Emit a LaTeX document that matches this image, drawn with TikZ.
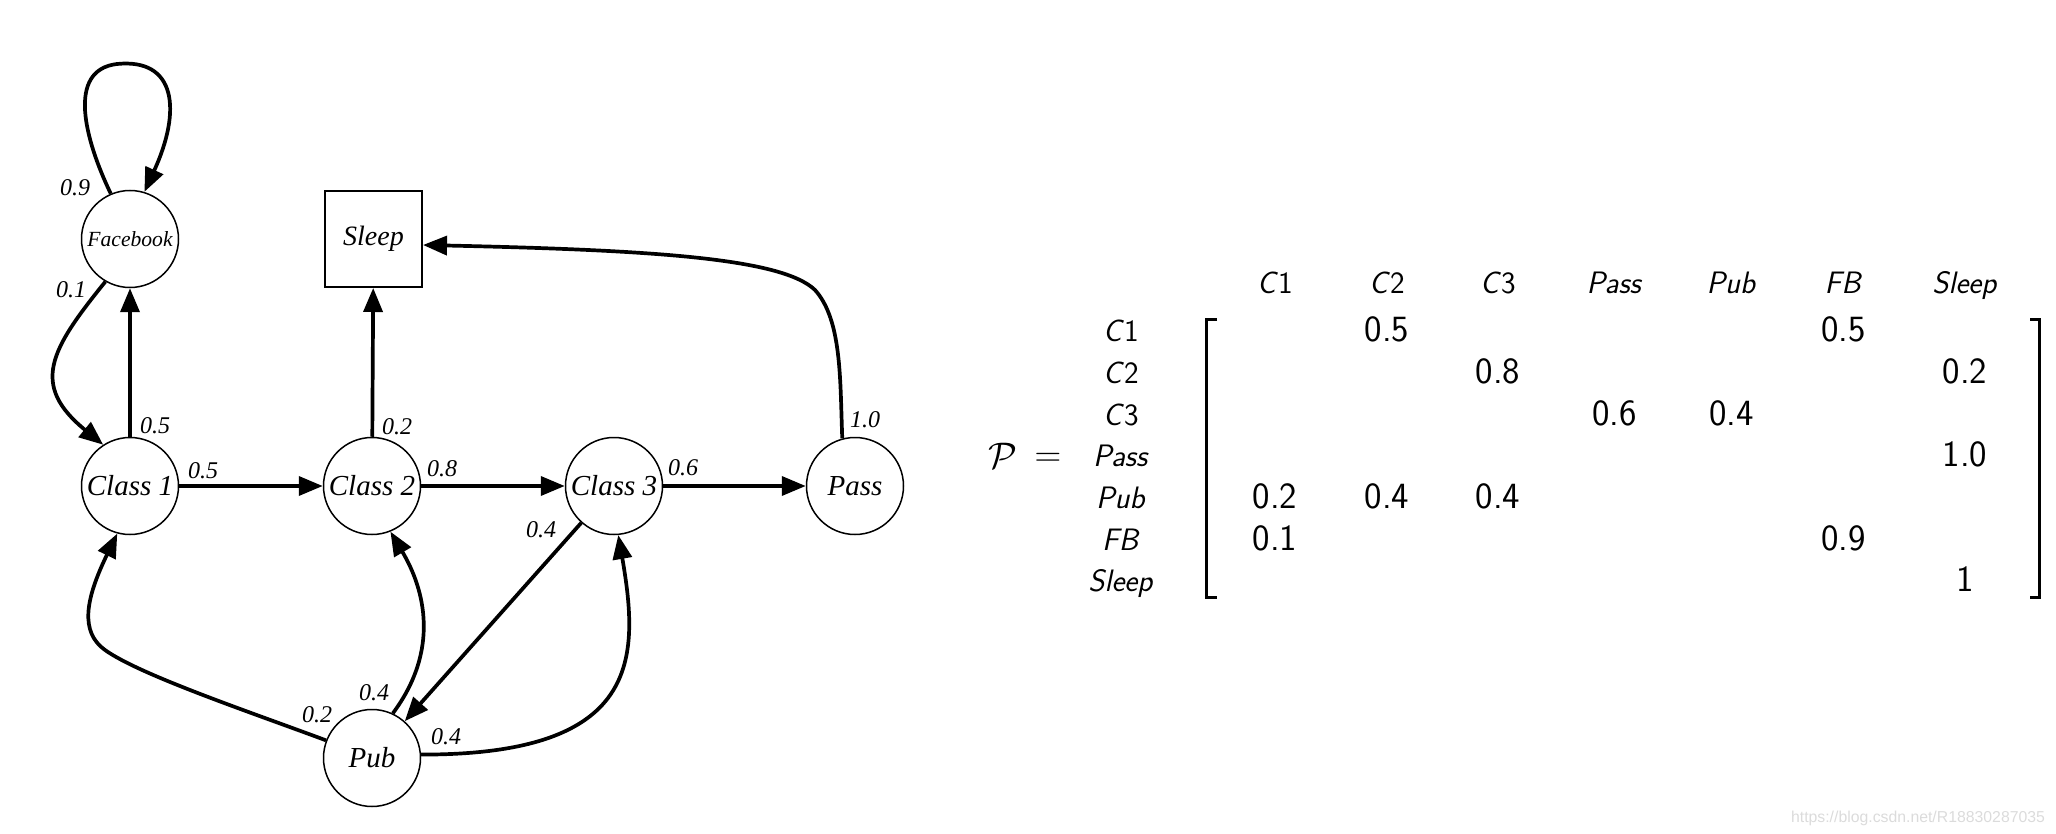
\RequirePackage{fix-cm}
\documentclass[tikz,border=0pt]{standalone}
\usepackage{fontspec}
\newfontfamily\tms{Liberation Serif}
\newfontfamily\arl{Liberation Sans}
\usetikzlibrary{arrows.meta,calc}
\begin{document}
\begin{tikzpicture}[x=0.5pt,y=-0.5pt,
  state/.style={circle,draw,line width=0.75pt,minimum size=48.5pt,inner sep=0pt,font=\tms\itshape\fontsize{14.5}{16}\selectfont},
  sbox/.style={rectangle,draw,line width=1pt,minimum width=48.5pt,minimum height=48pt,inner sep=0pt,font=\tms\itshape\fontsize{14}{16}\selectfont},
  edge/.style={line width=1.85pt,-{Triangle[length=12pt,width=9.5pt]}},
  plab/.style={font=\tms\itshape\fontsize{12}{14}\selectfont,inner sep=0pt},
  mhead/.style={font=\sffamily\fontsize{15.5}{18}\selectfont,anchor=base,inner sep=0pt},
  mval/.style={font=\sffamily\fontsize{18.5}{22}\selectfont,anchor=base,inner sep=0pt},
  brk/.style={line width=1.5pt}]
\useasboundingbox (0,0) rectangle (2056,834);
% nodes
\node[state,font=\tms\itshape\fontsize{10.8}{12}\selectfont] (fb) at (130,239) {Facebook};
\node[sbox] (sleep) at (373.5,239) {Sleep};
\node[state] (c1) at (130,486) {Class 1};
\node[state] (c2) at (372,486) {Class 2};
\node[state] (c3) at (614,486) {Class 3};
\node[state] (pass) at (855,486) {Pass};
\node[state] (pub) at (372,758) {Pub};
% edges
\draw[edge] (fb.113) .. controls (85,140) and (66,70) .. (117,64) .. controls (176,58) and (182,110) .. (fb.73);
\draw[edge] (fb.240) .. controls (50,350) and (30,385) .. (c1.123);
\draw[edge] (c1) -- (fb);
\draw[edge] (c2) -- (sleep);
\draw[edge] (c1) -- (c2);
\draw[edge] (c2) -- (c3);
\draw[edge] (c3) -- (pass);
\draw[edge] (c3) -- (pub);
\draw[edge] (pass.105) .. controls (840,380) and (842,320) .. (815,290) .. controls (782,258) and (650,250) .. ($(sleep.east)+(0,6)$);
\draw[edge] (pub.159) .. controls (250,712) and (140,675) .. (105,650) .. controls (80,632) and (85,600) .. (c1.255);
\draw[edge] (pub.65) .. controls (440,650) and (425,590) .. (c2.292);
\draw[edge] (pub.4) .. controls (640,755) and (640,660) .. (c3.275);
% edge labels
\node[plab] (l1) at (75,188) {0.9};
\node[plab] (l2) at (71,290) {0.1};
\node[plab] (l3) at (155,426) {0.5};
\node[plab] (l4) at (203,471) {0.5};
\node[plab] (l5) at (397,427) {0.2};
\node[plab] (l6) at (442,469) {0.8};
\node[plab] (l7) at (683,468) {0.6};
\node[plab] (l8) at (865,420) {1.0};
\node[plab] (l9) at (541,530) {0.4};
\node[plab] (l10) at (317,715) {0.2};
\node[plab] (l11) at (374,693) {0.4};
\node[plab] (l12) at (446,737) {0.4};
% matrix
\node[mval,font=\fontsize{18.5}{22}\selectfont] (P) at (1003,468) {$\mathcal{P}$};
\node[mval,font=\fontsize{18.5}{22}\selectfont] (eq) at (1048,466.8) {$=$};
\foreach \t/\x [count=\i] in {{\textit{C}1}/1275,{\textit{C}2}/1387,{\textit{C}3}/1498,{\textit{Pass}}/1614.5,{\textit{Pub}}/1731.5,{\textit{FB}}/1843.5,{\textit{Sleep}}/1965}
  \node[mhead] (h\i) at (\x,293) {\t};
\foreach \t/\y [count=\i] in {{\textit{C}1}/341.7,{\textit{C}2}/383.4,{\textit{C}3}/425.1,{\textit{Pass}}/466.8,{\textit{Pub}}/508.5,{\textit{FB}}/550.2,{\textit{Sleep}}/591.9}
  \node[mhead] (r\i) at (1121,\y) {\t};
\node[mval] (m12) at (1387,341.7) {0.5};
\node[mval] (m16) at (1843.5,341.7) {0.5};
\node[mval] (m23) at (1498,383.4) {0.8};
\node[mval] (m27) at (1965,383.4) {0.2};
\node[mval] (m34) at (1614.5,425.1) {0.6};
\node[mval] (m35) at (1731.5,425.1) {0.4};
\node[mval] (m47) at (1965,466.8) {1.0};
\node[mval] (m51) at (1275,508.5) {0.2};
\node[mval] (m52) at (1387,508.5) {0.4};
\node[mval] (m53) at (1498,508.5) {0.4};
\node[mval] (m61) at (1275,550.2) {0.1};
\node[mval] (m66) at (1843.5,550.2) {0.9};
\node[mval] (m77) at (1965,591.9) {1};
\draw[brk] (1217,320) -- (1206,320) -- (1206,597) -- (1217,597);
\draw[brk] (2030,320) -- (2039,320) -- (2039,597) -- (2030,597);
% watermark
\node[font=\arl\fontsize{7.9}{9}\selectfont,text=black!14,anchor=base,inner sep=0pt] (wm) at (1918,822) {https://blog.csdn.net/R18830287035};
\end{tikzpicture}
\end{document}
